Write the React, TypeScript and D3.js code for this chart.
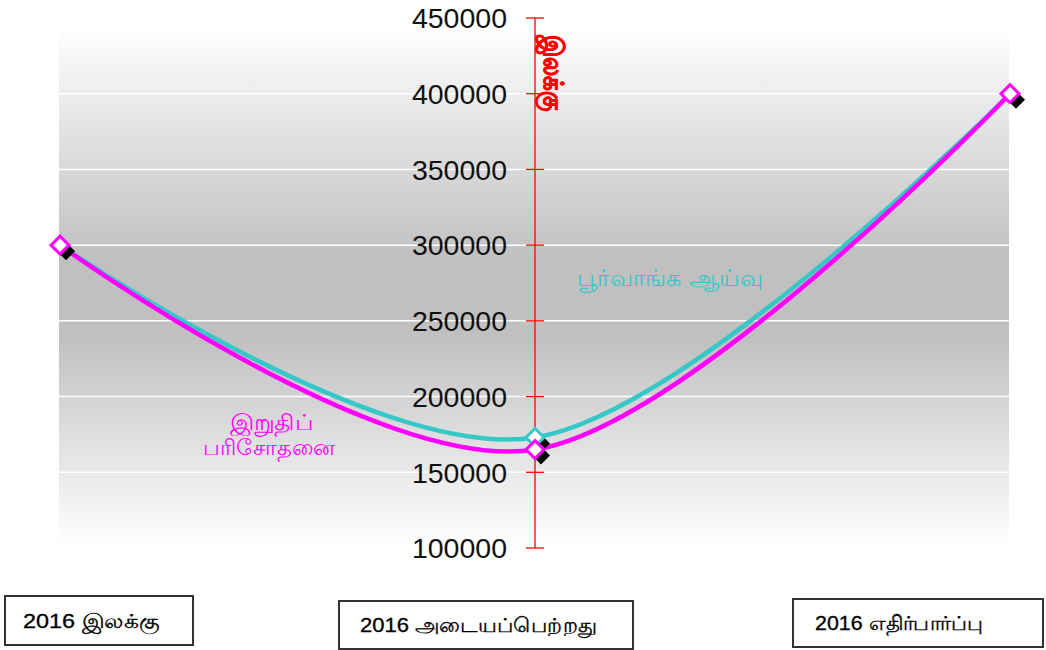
import React from "react";
import * as d3 from "d3";

const categories = ["2016 இலக்கு", "2016 அடையப்பெற்றது", "2016 எதிர்பார்ப்பு"];
const preliminary = [300000, 173000, 400000]; // பூர்வாங்க ஆய்வு
const finalExam = [300000, 165000, 400000]; // இறுதிப் பரிசோதனை
const yTicks = [100000, 150000, 200000, 250000, 300000, 350000, 400000, 450000];
const axisTitle = "இலக்கு";
const prelimLabel = "பூர்வாங்க  ஆய்வு";
const finalLabel = ["இறுதிப்", "பரிசோதனை"];

const W = 1046;
const H = 650;

export default function App() {
  const x = d3.scalePoint<string>().domain(categories).range([60, 1010]);
  const y = d3.scaleLinear().domain([100000, 450000]).range([548, 18]);
  const line = d3
    .line<number>()
    .x((_, i) => x(categories[i]) as number)
    .y((d) => y(d))
    .curve(d3.curveCardinal.tension(0));
  const axisX = 535;
  const plot = { x0: 59, x1: 1009, y0: 25, y1: 545 };
  const diamond = (cx: number, cy: number, r: number) =>
    `M${cx},${cy - r}L${cx + r},${cy}L${cx},${cy + r}L${cx - r},${cy}Z`;

  const markers = (vals: number[], color: string, only?: number[]) =>
    vals.map((v, i) => {
      if (only && !only.includes(i)) return null;
      const cx = x(categories[i]) as number;
      const cy = y(v);
      return (
        <g key={color + i}>
          <path d={diamond(cx + 6, cy + 6, 9)} fill="#000" />
          <path d={diamond(cx, cy, 9)} fill="#fff" stroke={color} strokeWidth={3} />
        </g>
      );
    });

  const boxes = [
    { x: 5, y: 596, w: 188, h: 49, tx: 23, tl: 137 },
    { x: 339, y: 601, w: 294, h: 48, tx: 360, tl: 237 },
    { x: 793, y: 599, w: 250, h: 48, tx: 815, tl: 168 },
  ];

  return (
    <svg width={W} height={H} style={{ position: "absolute", left: 0, top: 0 }}>
      <defs>
        <linearGradient id="bg" x1="0" y1="0" x2="0" y2="1">
          <stop offset="0" stopColor="#ffffff" />
          <stop offset="0.45" stopColor="#c0c0c0" />
          <stop offset="0.6" stopColor="#c0c0c0" />
          <stop offset="1" stopColor="#ffffff" />
        </linearGradient>
      </defs>
      <rect x={0} y={0} width={W} height={H} fill="#fff" />
      <rect x={plot.x0} y={plot.y0} width={plot.x1 - plot.x0} height={plot.y1 - plot.y0} fill="url(#bg)" />
      {yTicks.slice(1, -1).map((t) => (
        <line key={"g" + t} x1={plot.x0} x2={plot.x1} y1={y(t)} y2={y(t)} stroke="#fff" strokeWidth={1.5} />
      ))}
      <line x1={axisX} x2={axisX} y1={y(450000)} y2={y(100000)} stroke="#ff0000" strokeWidth={1.3} />
      {yTicks.map((t) => (
        <g key={"t" + t}>
          <line x1={axisX - 9} x2={axisX + 9} y1={y(t)} y2={y(t)} stroke="#ff0000" strokeWidth={1.3} />
          <text
            x={507}
            y={y(t)}
            dy="0.36em"
            textAnchor="end"
            fontFamily="Liberation Sans, Arial, sans-serif"
            fontSize={28.5}
            fill="#111"
          >
            {t}
          </text>
        </g>
      ))}
      <text
        transform={`translate(544,73) rotate(90)`}
        textAnchor="middle"
        fontFamily="sans-serif"
        fontWeight="bold"
        fontSize={27}
        fill="#ff0000"
        stroke="#ff0000"
        strokeWidth={0.8}
        textLength={76}
        lengthAdjust="spacingAndGlyphs"
      >
        {axisTitle}
      </text>
      <path d={line(preliminary) || ""} fill="none" stroke="#36c8c8" strokeWidth={4.5} />
      <path d={line(finalExam) || ""} fill="none" stroke="#ff00ff" strokeWidth={4.5} />
      {markers(preliminary, "#36c8c8", [1])}
      {markers(finalExam, "#ff00ff")}
      <text
        x={577}
        y={278}
        dy="0.35em"
        fontSize={23}
        fill="#36c8c8"
        fontFamily="sans-serif"
        textLength={186}
        lengthAdjust="spacingAndGlyphs"
      >
        {prelimLabel}
      </text>
      {finalLabel.map((s, i) => (
        <text
          key={s}
          x={i === 0 ? 230 : 203}
          y={422 + i * 25}
          dy="0.35em"
          fontSize={22}
          fill="#ff00ff"
          fontFamily="sans-serif"
          textLength={i === 0 ? 83 : 132}
          lengthAdjust="spacingAndGlyphs"
        >
          {s}
        </text>
      ))}
      {boxes.map((b, i) => (
        <g key={"b" + i}>
          <rect x={b.x} y={b.y} width={b.w} height={b.h} fill="#fff" stroke="#333" strokeWidth={2} />
          <text
            x={b.tx}
            y={b.y + b.h / 2}
            dy="0.35em"
            fontSize={20}
            fill="#000"
            stroke="#000"
            strokeWidth={0.3}
            fontFamily="sans-serif"
            textLength={b.tl}
            lengthAdjust="spacingAndGlyphs"
          >
            {categories[i]}
          </text>
        </g>
      ))}
    </svg>
  );
}
